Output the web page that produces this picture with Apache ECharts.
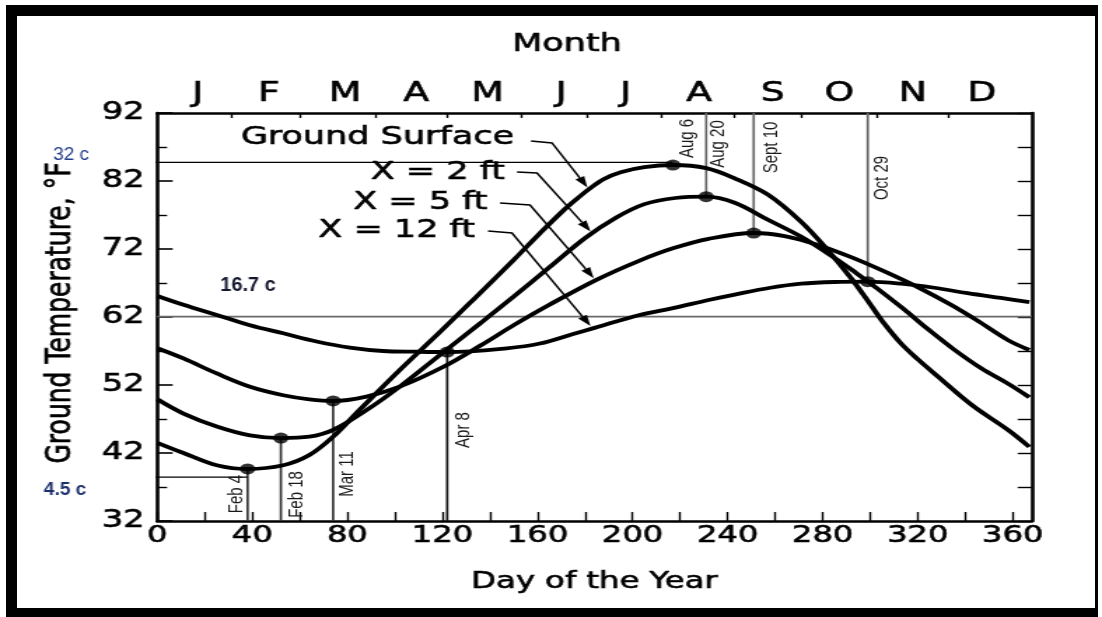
<!DOCTYPE html>
<html>
<head>
<meta charset="utf-8">
<script src="https://cdn.jsdelivr.net/npm/echarts@6/dist/echarts.min.js"></script>
<style>
  html, body { margin: 0; padding: 0; background: #fff; width: 1102px; height: 617px; overflow: hidden; }
  #chart { position: absolute; left: 0; top: 0; width: 787px; height: 617px; transform: scaleX(1.40025); transform-origin: 0 0; }
  #frame { position: absolute; left: 6px; top: 5px; width: 1092px; height: 612px; box-sizing: border-box;
           border-style: solid; border-color: #000; border-width: 11px 3px 9px 11px; pointer-events: none; }
</style>
</head>
<body>
<div id="chart"></div>
<div id="frame"></div>
<script>
// ---- data -------------------------------------------------------------
const dayLabels   = [0, 40, 80, 120, 160, 200, 240, 280, 320, 360];
const dayTicks    = [0, 20, 40, 60, 80, 100, 120, 140, 160, 180, 200, 220, 240, 260, 280, 300, 320, 340, 360];
const monthLetters = ['J', 'F', 'M', 'A', 'M', 'J', 'J', 'A', 'S', 'O', 'N', 'D'];
const monthCentres = [17, 47, 79, 109, 139, 170, 197, 228, 259, 287, 318, 347];
const monthStarts  = [31, 60, 92, 122, 153, 181, 212, 243, 271, 303, 333];

// [day of year, temperature °F]
const groundSurface = [[0,43.5],[11,42.0],[25,40.2],[38,39.65],[53,40.2],[64,41.7],[74,44.4],[85,48.3],[102,54.2],
  [119,59.8],[134,64.9],[150,70.4],[161,74.3],[171,77.7],[177,79.5],[182,80.9],[188,82.3],[195,83.3],[205,84.05],
  [217,84.35],[231,83.9],[243,82.4],[257,80.0],[271,76.0],[282,71.9],[292,67.7],[300,63.9],[306,61.0],[313,58.1],
  [320,55.8],[328,53.4],[343,49.0],[358,45.4],[367,42.9]];
const depth2ft = [[0,49.9],[11,47.8],[25,45.9],[39,44.6],[52,44.2],[64,44.4],[74,45.4],[88,48.3],[102,51.75],
  [116,55.6],[136,61.1],[150,65.0],[165,69.3],[180,73.6],[193,76.6],[205,78.6],[218,79.5],[231,79.7],[243,78.8],
  [257,76.3],[271,73.8],[285,70.7],[294,68.5],[303,66.2],[314,63.2],[324,60.3],[335,57.3],[347,54.4],[358,52.2],
  [367,50.2]];
const depth5ft = [[0,57.4],[11,55.9],[25,53.7],[39,51.75],[53,50.5],[64,49.9],[74,49.65],[88,50.3],[102,51.75],
  [120,54.6],[136,57.8],[150,60.8],[165,63.8],[185,67.5],[203,70.3],[217,72.1],[232,73.5],[251,74.35],[264,73.9],
  [278,72.6],[292,70.8],[306,68.7],[320,66.4],[334,63.8],[345,61.5],[358,58.6],[367,57.15]];
const depth12ft = [[0,65.1],[11,63.8],[25,62.3],[39,60.8],[53,59.6],[67,58.4],[81,57.5],[95,57.0],[109,56.9],
  [122,56.85],[147,57.4],[161,58.1],[175,59.5],[184,60.4],[203,62.3],[217,63.3],[232,64.5],[243,65.3],[258,66.3],
  [271,66.9],[285,67.15],[299,67.2],[313,66.9],[327,66.3],[341,65.5],[355,64.8],[367,64.2]];

const curveNames = ['Ground Surface', 'X = 2 ft', 'X = 5 ft', 'X = 12 ft'];
const curves = [groundSurface, depth2ft, depth5ft, depth12ft];

// dates of the minimum / maximum of each curve
const markerNames = ['Feb 4', 'Feb 18', 'Mar 11', 'Apr 8', 'Aug 6', 'Aug 20', 'Sept 10', 'Oct 29'];
const markerDays  = [38, 52, 74, 122, 217, 231, 251, 299];
const markerCurve = [0, 1, 2, 3, 0, 1, 2, 3];
const markerStem  = ['down', 'down', 'down', 'down', 'none', 'up', 'up', 'up'];

// reference levels (°F) and their notes
const refNotes  = ['32 c', '16.7 c', '4.5 c'];
const refLevels = [84.75, 62.05, 38.45];
const refFrom   = [-2.4, 0, -3.4];
const refTo     = [217, 368, 38];

// day at which each curve label's arrow meets its curve
const arrowDays = [181, 182.3, 183.7, 182.3];

// ---- layout -------------------------------------------------------------
const S = 1102 / 787;            // the chart box is drawn 787 px wide and stretched to 1102
const X = v => v / S;            // page x  -> chart x
const FONT = '"DejaVu Sans", "Liberation Sans", sans-serif';
const DAY_MAX = 368;
const INK = { textBorderColor: '#000', textBorderWidth: 0.6 };

function valueAt(series, day) {
  for (let i = 1; i < series.length; i++) {
    if (series[i][0] >= day) {
      const [x0, y0] = series[i - 1], [x1, y1] = series[i];
      return y0 + (y1 - y0) * (day - x0) / (x1 - x0);
    }
  }
  return series[series.length - 1][1];
}

const chart = echarts.init(document.getElementById('chart'), null, { renderer: 'canvas' });

const axisLine = { show: true, onZero: false, lineStyle: { color: '#000', width: 2.6 } };

const series = [];
curves.forEach((c, i) => {
  series.push({
    name: curveNames[i], type: 'line', data: c, smooth: 0.35, showSymbol: false, z: 5,
    lineStyle: { color: '#000', width: 3.8 }, silent: true
  });
});
// reference levels
refLevels.forEach((lv, i) => {
  series.push({
    type: 'line', data: [[refFrom[i], lv], [refTo[i], lv]], showSymbol: false, clip: false, z: 3, silent: true,
    lineStyle: { color: i === 1 ? '#6a6a6a' : '#000', width: i === 1 ? 1.6 : 1.2 }
  });
});
// date stems
markerDays.forEach((d, i) => {
  if (markerStem[i] === 'none') return;
  const t = valueAt(curves[markerCurve[i]], d);
  const ends = markerStem[i] === 'down' ? [[d, 32], [d, t]] : [[d, t], [d, 92]];
  series.push({
    type: 'line', data: ends, showSymbol: false, z: 2, silent: true,
    lineStyle: { color: i === 3 ? '#111' : (markerStem[i] === 'down' ? '#333' : '#666'), width: 1.7 }
  });
});
// extreme-value dots
series.push({
  type: 'scatter', z: 8, symbolSize: 11, itemStyle: { color: '#000' }, silent: true,
  data: markerDays.map((d, i) => [d, valueAt(curves[markerCurve[i]], d)])
});

const option = {
  animation: false,
  grid: { left: X(157.3), right: 787 - X(1031.7), top: 113, bottom: 96, containLabel: false },
  xAxis: [
    {
      type: 'value', position: 'bottom', min: 0, max: DAY_MAX, interval: 40,
      axisLine,
      axisTick: { show: true, inside: true, length: 9, customValues: dayTicks, lineStyle: { color: '#000', width: 1.4 } },
      axisLabel: Object.assign({ customValues: dayLabels, color: '#000', fontFamily: FONT, fontSize: 23, margin: 4 }, INK),
      splitLine: { show: false },
      name: 'Day of the Year', nameLocation: 'middle', nameGap: 50,
      nameTextStyle: Object.assign({ color: '#000', fontFamily: FONT, fontSize: 23 }, INK)
    },
    {
      type: 'value', position: 'top', min: 0, max: DAY_MAX,
      axisLine,
      axisTick: { show: true, inside: true, length: 5, customValues: monthStarts, lineStyle: { color: '#000', width: 1.4 } },
      axisLabel: Object.assign({
        customValues: monthCentres, color: '#000', fontFamily: FONT, fontSize: 27, margin: 6,
        formatter: v => monthLetters[monthCentres.indexOf(v)]
      }, INK),
      splitLine: { show: false }
    }
  ],
  yAxis: [
    {
      type: 'value', position: 'left', min: 32, max: 92, interval: 10,
      axisLine,
      axisTick: { show: true, inside: true, length: 11, lineStyle: { color: '#000', width: 1.6 } },
      minorTick: { show: true, splitNumber: 2, length: 7, lineStyle: { color: '#000', width: 1.4 } },
      axisLabel: Object.assign({ color: '#000', fontFamily: FONT, fontSize: 24, margin: 9 }, INK),
      splitLine: { show: false },
      name: 'Ground Temperature, °F', nameLocation: 'middle', nameGap: 56,
      nameTextStyle: Object.assign({ color: '#000', fontFamily: FONT, fontSize: 25, padding: [0, 0, 0, 8] }, INK)
    },
    {
      type: 'value', position: 'right', min: 32, max: 92, interval: 10,
      axisLine,
      axisTick: { show: true, inside: true, length: 10, lineStyle: { color: '#000', width: 1.4 } },
      minorTick: { show: true, splitNumber: 2, length: 10, lineStyle: { color: '#000', width: 1.4 } },
      axisLabel: { show: false },
      splitLine: { show: false }
    }
  ],
  series
};
chart.setOption(option);

// ---- annotations -------------------------------------------------------
const toPx = (d, t) => chart.convertToPixel({ xAxisIndex: 0, yAxisIndex: 0 }, [d, t]);
const graphic = [];
const inkText = (text, font, align) => ({ text, font, fill: '#000', stroke: '#000', lineWidth: 0.6, align, verticalAlign: 'middle' });

// axis title above the month letters
graphic.push({ type: 'text', x: X(567), y: 44, silent: true, style: inkText('Month', '25px ' + FONT, 'center') });

// curve labels with leader arrows
const labelRight = [514, 505, 487.5, 475];
const labelMidY  = [137, 172, 202, 230];
const elbowA = [[531, 141], [517, 172], [500, 203], [488, 231]];
const elbowB = [[552, 143], [537, 173], [530, 205], [512, 233]];
curveNames.forEach((name, i) => {
  graphic.push({ type: 'text', x: X(labelRight[i]), y: labelMidY[i], silent: true, style: inkText(name, '25px ' + FONT, 'right') });
  const tip = toPx(arrowDays[i], valueAt(curves[i], arrowDays[i]));
  const a = [X(elbowA[i][0]), elbowA[i][1]], b = [X(elbowB[i][0]), elbowB[i][1]];
  const tipY = tip[1] - 3;
  const dx = tip[0] - b[0], dy = tipY - b[1], len = Math.hypot(dx, dy);
  const ux = dx / len, uy = dy / len, L = 11, W = 3.6;
  const base = [tip[0] - ux * L, tipY - uy * L];
  graphic.push({
    type: 'polyline', silent: true, z: 20,
    shape: { points: [a, b, base] }, style: { stroke: '#000', lineWidth: 1.5, fill: null }
  });
  graphic.push({
    type: 'polygon', silent: true, z: 20,
    shape: { points: [[tip[0], tipY], [base[0] - uy * W, base[1] + ux * W], [base[0] + uy * W, base[1] - ux * W]] },
    style: { fill: '#000' }
  });
});

// date labels beside the stems
const dateDx = [-11.5, 16, 13.8, 16.5, 14.6, 12.2, 17.1, 14.7];
const dateY  = [494, 494.5, 474, 430, 138.5, 144, 147.5, 178];
markerNames.forEach((name, i) => {
  const p = toPx(markerDays[i], 62);
  graphic.push({
    type: 'text', x: p[0] + X(dateDx[i]), y: dateY[i], rotation: Math.PI / 2, silent: true, z: 15,
    style: { text: name, font: '15px "Liberation Sans", sans-serif', fill: '#1a1a1a', align: 'center', verticalAlign: 'middle' }
  });
});

// Celsius notes next to the reference levels
const noteX = [71, 248, 65];
const noteY = [155, 285, 490];
const noteFont = ['19px', 'bold 20px', 'bold 19px'];
const noteColor = ['#1f3c8c', '#14162e', '#1c2f6a'];
refNotes.forEach((txt, i) => {
  graphic.push({
    type: 'text', x: X(noteX[i]), y: noteY[i], scaleX: 1 / S, silent: true, z: 15,
    style: { text: txt, font: noteFont[i] + ' "Liberation Sans", Arial, sans-serif', fill: noteColor[i], align: 'center', verticalAlign: 'middle' }
  });
});

chart.setOption({ graphic });
</script>
</body>
</html>
